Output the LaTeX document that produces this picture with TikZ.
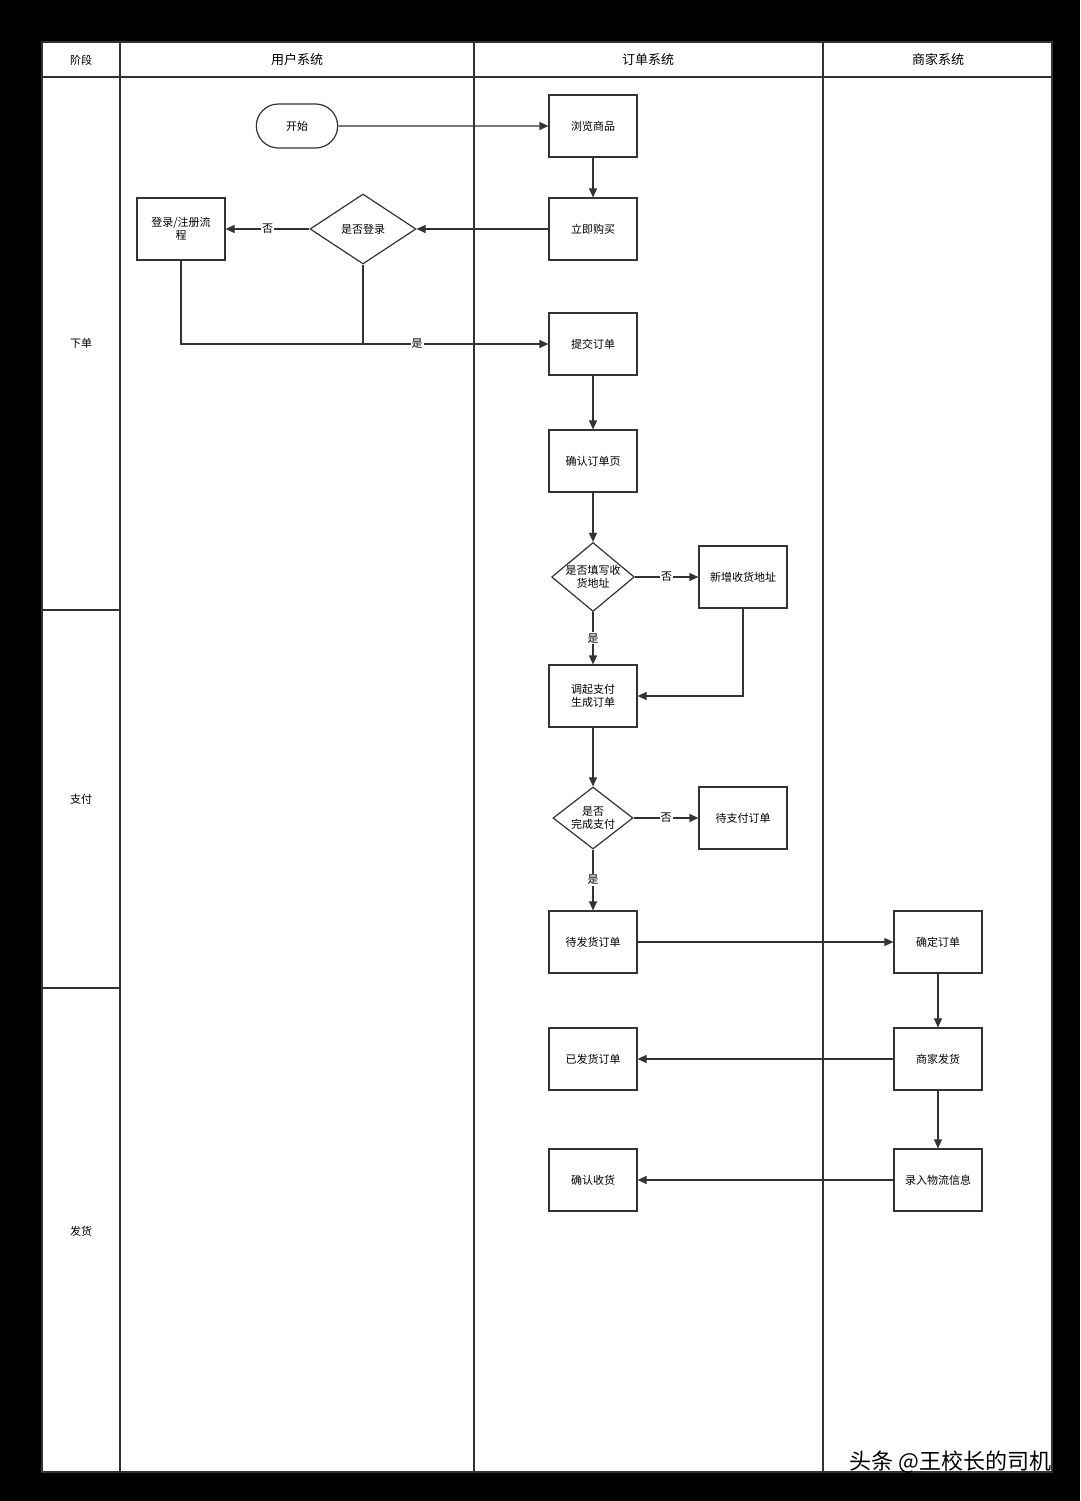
\documentclass[tikz,border=0pt]{standalone}
\usepackage{fontspec}
\setmainfont{Noto Sans CJK SC}
\usetikzlibrary{shapes.geometric,shapes.misc,arrows.meta}
\definecolor{ln}{HTML}{333333}
\begin{document}
\begin{tikzpicture}[x=1pt,y=-1pt,
  box/.style={draw=ln,line width=1.2pt,minimum width=88pt,minimum height=62pt,align=center,font=\fontsize{11}{13}\selectfont,inner sep=1pt},
  dia/.style={draw=ln,line width=1.2pt,diamond,aspect=1.3,align=center,font=\fontsize{11}{13}\selectfont,inner sep=0pt},
  ar/.style={draw=ln,line width=1.2pt,-{Triangle[length=9pt,width=8pt]}},
  lab/.style={fill=white,inner sep=1pt,font=\fontsize{11}{13}\selectfont},
  hd/.style={font=\fontsize{13}{15}\selectfont}]
\fill[black] (0,0) rectangle (1080,1501);
\fill[white] (42,42) rectangle (1052,1472);
\draw[ln,line width=1.5pt] (42,42) rectangle (1052,1472);
\draw[ln,line width=1.5pt] (42,77) -- (1052,77);
\foreach \x in {120,474,823} \draw[ln,line width=1.5pt] (\x,42) -- (\x,1472);
\draw[ln,line width=1.5pt] (42,610) -- (120,610) (42,988) -- (120,988);
\node[hd,font=\fontsize{11}{13}\selectfont] (h0) at (81,60) {阶段};
\node[hd] (h1) at (297,60) {用户系统};
\node[hd] (h2) at (648,60) {订单系统};
\node[hd] (h3) at (938,60) {商家系统};
\node[font=\fontsize{11}{13}\selectfont] (s1) at (81,343) {下单};
\node[font=\fontsize{11}{13}\selectfont] (s2) at (81,799) {支付};
\node[font=\fontsize{11}{13}\selectfont] (s3) at (81,1231) {发货};

\node[draw=ln,line width=1.2pt,rounded rectangle,minimum width=88pt,minimum height=44pt,font=\fontsize{11}{13}\selectfont] (start) at (297,126) {开始};
\node[box] (browse) at (593,126) {浏览商品};
\node[box] (buy) at (593,229) {立即购买};
\node[dia,minimum width=106pt,minimum height=70pt,aspect=1.5] (login) at (363,229) {是否登录};
\node[box] (reg) at (181,229) {登录/注册流\\程};
\node[box] (submit) at (593,344) {提交订单};
\node[box] (confirm) at (593,461) {确认订单页};
\node[dia,minimum width=80pt,minimum height=62pt,aspect=1.2] (addr) at (593,577) {是否填写收\\货地址};
\node[box] (newaddr) at (743,577) {新增收货地址};
\node[box] (pay) at (593,696) {调起支付\\生成订单};
\node[dia,minimum width=80pt,minimum height=62pt] (paid) at (593,818) {是否\\完成支付};
\node[box] (unpaid) at (743,818) {待支付订单};
\node[box] (toship) at (593,942) {待发货订单};
\node[box] (ok) at (938,942) {确定订单};
\node[box] (ship) at (938,1059) {商家发货};
\node[box] (shipped) at (593,1059) {已发货订单};
\node[box] (log) at (938,1180) {录入物流信息};
\node[box] (recv) at (593,1180) {确认收货};
\coordinate (j) at (363,344);

\draw[ar] (start) -- (browse);
\draw[ar] (browse) -- (buy);
\draw[ar] (buy) -- (login);
\draw[ar] (login) -- node[lab]{否} (reg);
\draw[ar] (reg.south) |- (submit.west);
\draw[ln,line width=1.2pt] (login.south) -- (j);
\node[lab] (yes1) at (417,344) {是};
\draw[ar] (submit) -- (confirm);
\draw[ar] (confirm) -- (addr);
\draw[ar] (addr) -- node[lab]{否} (newaddr);
\draw[ar] (addr) -- node[lab]{是} (pay);
\draw[ar] (newaddr.south) |- (pay.east);
\draw[ar] (pay) -- (paid);
\draw[ar] (paid) -- node[lab]{否} (unpaid);
\draw[ar] (paid) -- node[lab]{是} (toship);
\draw[ar] (toship) -- (ok);
\draw[ar] (ok) -- (ship);
\draw[ar] (ship) -- (shipped);
\draw[ar] (ship) -- (log);
\draw[ar] (log) -- (recv);
\node[anchor=east,font=\fontsize{22}{24}\selectfont,text=black] (wm) at (1055,1462) {头条 @王校长的司机};
\end{tikzpicture}
\end{document}
